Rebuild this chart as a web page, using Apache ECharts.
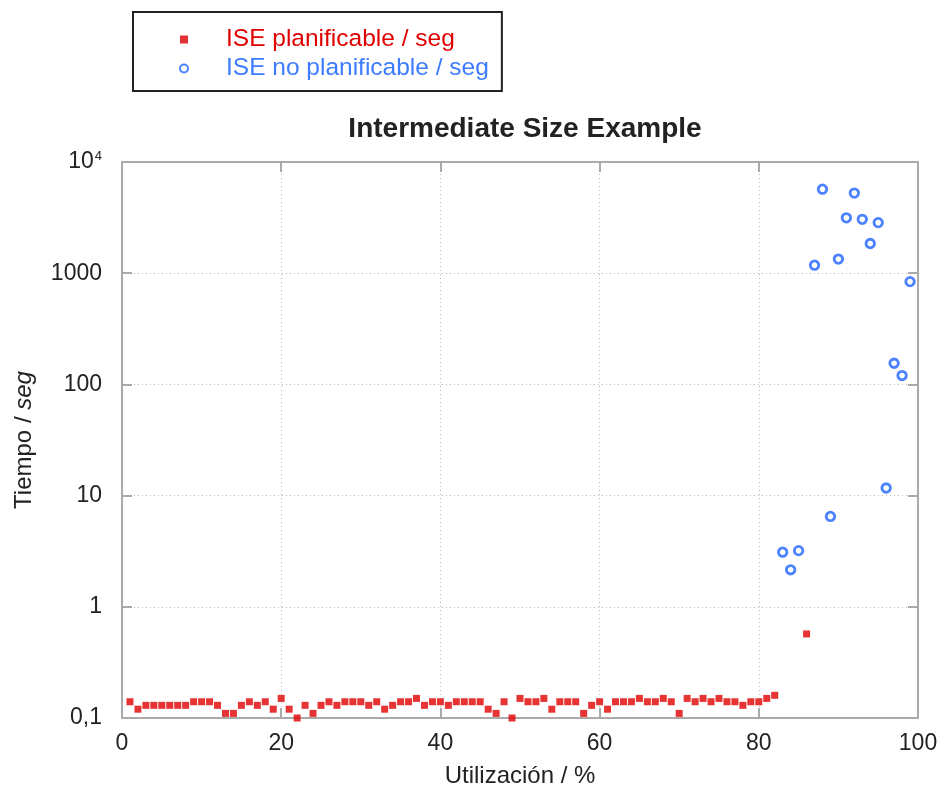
<!DOCTYPE html>
<html><head><meta charset="utf-8">
<script src="https://cdn.jsdelivr.net/npm/echarts@6/dist/echarts.min.js"></script>
<style>html,body{margin:0;padding:0;background:#fff}#c{width:943px;height:789px}</style>
</head><body><div id="c"></div>
<script>
// ---- data ----
const plannableX = [1,2,3,4,5,6,7,8,9,10,11,12,13,14,15,16,17,18,19,20,
  21,22,23,24,25,26,27,28,29,30,31,32,33,34,35,36,37,38,39,40,
  41,42,43,44,45,46,47,48,49,50,51,52,53,54,55,56,57,58,59,60,
  61,62,63,64,65,66,67,68,69,70,71,72,73,74,75,76,77,78,79,80,81,82,86];
const plannableY = [0.14,0.12,0.13,0.13,0.13,0.13,0.13,0.13,0.14,0.14,0.14,0.13,0.11,0.11,0.13,0.14,0.13,0.14,0.12,0.15,
  0.12,0.10,0.13,0.11,0.13,0.14,0.13,0.14,0.14,0.14,0.13,0.14,0.12,0.13,0.14,0.14,0.15,0.13,0.14,0.14,
  0.13,0.14,0.14,0.14,0.14,0.12,0.11,0.14,0.10,0.15,0.14,0.14,0.15,0.12,0.14,0.14,0.14,0.11,0.13,0.14,
  0.12,0.14,0.14,0.14,0.15,0.14,0.14,0.15,0.14,0.11,0.15,0.14,0.15,0.14,0.15,0.14,0.14,0.13,0.14,0.14,0.15,0.16,0.57];
const unplannableX = [83,84,85,87,88,89,90,91,92,93,94,95,96,97,98,99];
const unplannableY = [3.1,2.15,3.2,1180,5700,6.5,1340,3150,5250,3050,1850,2850,11.7,155,120,840];
const xTicks = [0,20,40,60,80,100];
const yTickValues = [0.1,1,10,100,1000,10000];
const yTickLabels = ['0,1','1','10','100','1000','{b|10}{s|4}'];
const seriesNames = ['ISE planificable / seg','ISE no planificable / seg'];
const titleText = 'Intermediate Size Example';
const xName = 'Utilización / %';
const yName = '{a|Tiempo / }{i|seg}';

const FONT = '"Liberation Sans", Arial, sans-serif';
const RED = '#e00000', BLUE = '#1f62ff', TXT = '#222', FRAME = '#aaaaaa';

const redData = plannableX.map((x,i)=>[x, plannableY[i]]);
const blueData = unplannableX.map((x,i)=>[x, unplannableY[i]]);

const axisLine = {show:true, onZero:false, lineStyle:{color:FRAME, width:2}};
const axisTick = {show:true, inside:true, length:10, lineStyle:{color:FRAME, width:2}};
const grid = {type:[1,3], color:'#b8b8b8', width:1};

const chart = echarts.init(document.getElementById('c'));
chart.setOption({
  animation:false,
  backgroundColor:'#fff',
  title:{text:titleText, left:520, textAlign:'center', top:110,
    textStyle:{fontFamily:FONT, fontSize:28, fontWeight:'bold', color:TXT}},
  legend:{orient:'vertical', left:133, top:12, padding:[15,13,10,46], itemGap:4,
    itemWidth:8, itemHeight:8, borderColor:'#222', borderWidth:2, backgroundColor:'#fff',
    textStyle:{fontFamily:FONT, fontSize:24.5, padding:[0,0,0,33]},
    data:[{name:seriesNames[0], textStyle:{color:RED}},{name:seriesNames[1], textStyle:{color:'#3d7bff'}}]},
  grid:{left:122, right:25, top:162, bottom:71, outerBoundsMode:'none'},
  xAxis:[
    {type:'value', min:xTicks[0], max:xTicks[xTicks.length-1], interval:xTicks[1]-xTicks[0], position:'bottom',
     axisLine, axisTick, splitLine:{show:true, lineStyle:grid},
     axisLabel:{margin:14, fontFamily:FONT, fontSize:23, color:TXT},
     name:xName, nameLocation:'middle', nameGap:46,
     nameTextStyle:{fontFamily:FONT, fontSize:24, color:TXT}},
    {type:'value', min:xTicks[0], max:xTicks[xTicks.length-1], interval:xTicks[1]-xTicks[0], position:'top',
     axisLine, axisTick, splitLine:{show:false}, axisLabel:{show:false}}
  ],
  yAxis:[
    {type:'log', logBase:10, min:yTickValues[0], max:yTickValues[yTickValues.length-1], splitNumber:5, position:'left',
     axisLine, axisTick, minorTick:{show:false}, splitLine:{show:true, lineStyle:grid},
     axisLabel:{margin:20, fontFamily:FONT, fontSize:23, color:TXT,
       formatter:(v)=>{const k=yTickValues.findIndex(t=>Math.abs(Math.log10(t)-Math.log10(v))<1e-6); return k>=0?yTickLabels[k]:'';},
       rich:{b:{fontFamily:FONT, fontSize:23, color:TXT}, s:{fontFamily:FONT, fontSize:13, color:TXT, verticalAlign:'top', padding:[0,0,12,1]}}},
     name:yName, nameLocation:'middle', nameGap:86, nameRotate:90,
     nameTextStyle:{fontFamily:FONT, fontSize:24, color:TXT,
       rich:{a:{fontFamily:FONT, fontSize:24, color:TXT}, i:{fontFamily:FONT, fontSize:24, color:TXT, fontStyle:'italic'}}}},
    {type:'log', logBase:10, min:yTickValues[0], max:yTickValues[yTickValues.length-1], splitNumber:5, position:'right',
     axisLine, axisTick, minorTick:{show:false}, splitLine:{show:false}, axisLabel:{show:false}}
  ],
  series:[
    {name:seriesNames[0], type:'scatter', xAxisIndex:0, yAxisIndex:0, data:redData,
     symbol:'rect', symbolSize:7, itemStyle:{color:RED}},
    {name:seriesNames[1], type:'scatter', xAxisIndex:0, yAxisIndex:0, data:blueData,
     symbol:'circle', symbolSize:8.5, itemStyle:{color:'#fff', borderColor:BLUE, borderWidth:2.8}}
  ]
});
</script></body></html>
